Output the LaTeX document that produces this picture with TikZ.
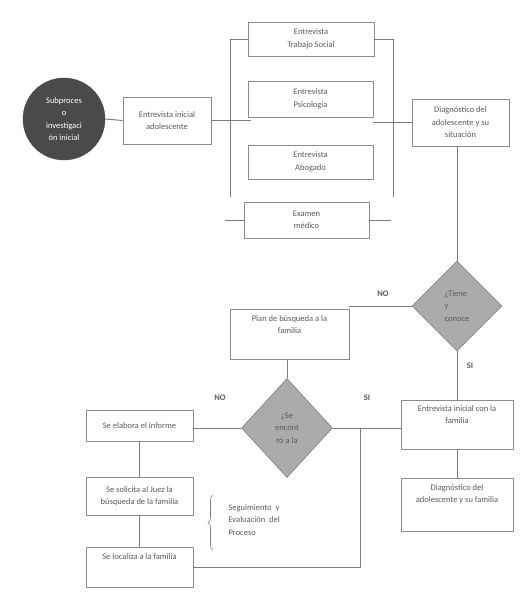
\documentclass[tikz,border=0pt]{standalone}
\usepackage{fontspec}
\setmainfont{Carlito}
\usetikzlibrary{shapes.geometric, decorations.pathreplacing}
\definecolor{linegray}{HTML}{7c7c7c}
\definecolor{boxgray}{HTML}{8c8c8c}
\definecolor{txtgray}{HTML}{5a5a5a}
\definecolor{dotgray}{HTML}{4a4a4a}
\definecolor{diagray}{HTML}{ababab}

\begin{document}
\begin{tikzpicture}[x=1pt, y=-1pt, font=\fontsize{8.5}{12.5}\selectfont,
  caja/.style={rectangle, draw=boxgray, line width=0.8pt, fill=white, text=txtgray, align=center, inner sep=2pt},
  decision/.style={diamond, draw=boxgray, line width=0.8pt, fill=diagray, text=txtgray, inner sep=0pt},
  linea/.style={draw=linegray, line width=1pt},
  etiqueta/.style={text=txtgray, font=\fontsize{8.5}{9}\selectfont\bfseries}]
  \useasboundingbox (0,0) rectangle (530,605);

  \node[circle, fill=dotgray, draw=dotgray, minimum size=82pt, text=white, align=center, inner sep=0pt] (sub) at (64,119) {Subproces\\o\\investigaci\\ón inicial};
  \node[caja, minimum width=88pt, minimum height=47pt] (ini) at (167,120.5) {Entrevista inicial\\adolescente};
  \node[caja, minimum width=126pt, minimum height=34pt] (ts) at (311,39) {Entrevista\\Trabajo Social};
  \node[caja, minimum width=125pt, minimum height=36pt] (psi) at (310.5,99) {Entrevista\\Psicologia};
  \node[caja, minimum width=125pt, minimum height=34pt] (abo) at (310.5,162) {Entrevista\\Abogado};
  \node[caja, minimum width=125pt, minimum height=36pt] (exa) at (306.5,220) {Examen\\médico};
  \node[caja, minimum width=97pt, minimum height=47pt] (dsit) at (460.5,122.5) {Diagnóstico del\\adolescente y su\\situación};
  \node[decision, align=left, minimum width=90pt, minimum height=90pt] (tiene) at (457,306) {¿Tiene\\y\\conoce};
  \node[caja, minimum width=119pt, minimum height=50pt, text depth=19pt] (plan) at (289.5,334) {Plan de búsqueda a la\\familia};
  \node[decision, align=center, minimum width=91pt, minimum height=99pt] (enc) at (287,428) {¿Se\\encont\\ró a la};
  \node[caja, minimum width=112pt, minimum height=49pt, text depth=19.5pt] (efam) at (457,424.5) {Entrevista inicial con la\\familia};
  \node[caja, minimum width=112pt, minimum height=53pt, text depth=21.5pt] (dfam) at (457,504.5) {Diagnóstico del\\adolescente y su familia};
  \node[caja, minimum width=107pt, minimum height=31pt] (inf) at (139.5,425.5) {Se elabora el informe};
  \node[caja, minimum width=107pt, minimum height=38pt] (juez) at (139.5,496) {Se solicita al Juez la\\búsqueda de la familia};
  \node[caja, minimum width=107pt, minimum height=40pt, text depth=20pt] (loc) at (139.5,567) {Se localiza a la familia};
  \node[text=txtgray, align=left, anchor=west] (seg) at (225,520) {Seguimiento \ y\\Evaluación \ del\\Proceso};

  \node[etiqueta] (no1) at (383,294) {NO};
  \node[etiqueta] (si1) at (470,366) {SI};
  \node[etiqueta] (si2) at (367,398) {SI};
  \node[etiqueta] (no2) at (220,398) {NO};

  \coordinate (izq) at (230,197);
  \coordinate (der) at (393,197);
  \coordinate (exaizq) at (225,220);
  \coordinate (exader) at (391,220);
  \coordinate (inifin) at (251,120.5);
  \coordinate (psider) at (373,122.5);
  \coordinate (union) at (360,428);
  \coordinate (llaveinf) at (213,550);
  \coordinate (llavesup) at (213,495);

  \draw[linea] (sub.east) -- (ini.west);
  \draw[linea] (ini.east) -- (inifin);
  \draw[linea] (ts.west) -| (izq);
  \draw[linea] (ts.east) -| (der);
  \draw[linea] (exa.west) -- (exaizq);
  \draw[linea] (exa.east) -- (exader);
  \draw[linea] (psider) -- (dsit.west);
  \draw[linea] (tiene.north) -- (tiene.north |- dsit.south);
  \draw[linea] (tiene.west) -- (tiene.west -| plan.east);
  \draw[linea] (enc.north) -- (enc.north |- plan.south);
  \draw[linea] (tiene.south) -- (efam.north);
  \draw[linea] (enc.east) -- (enc.east -| efam.west);
  \draw[linea] (efam.south) -- (dfam.north);
  \draw[linea] (enc.west) -- (enc.west -| inf.east);
  \draw[linea] (inf.south) -- (juez.north);
  \draw[linea] (juez.south) -- (loc.north);
  \draw[linea] (loc.east) -| (union);
  \draw[linea, line width=0.6pt, decorate, decoration={brace, amplitude=5pt}] (llaveinf) -- (llavesup);
\end{tikzpicture}
\end{document}
